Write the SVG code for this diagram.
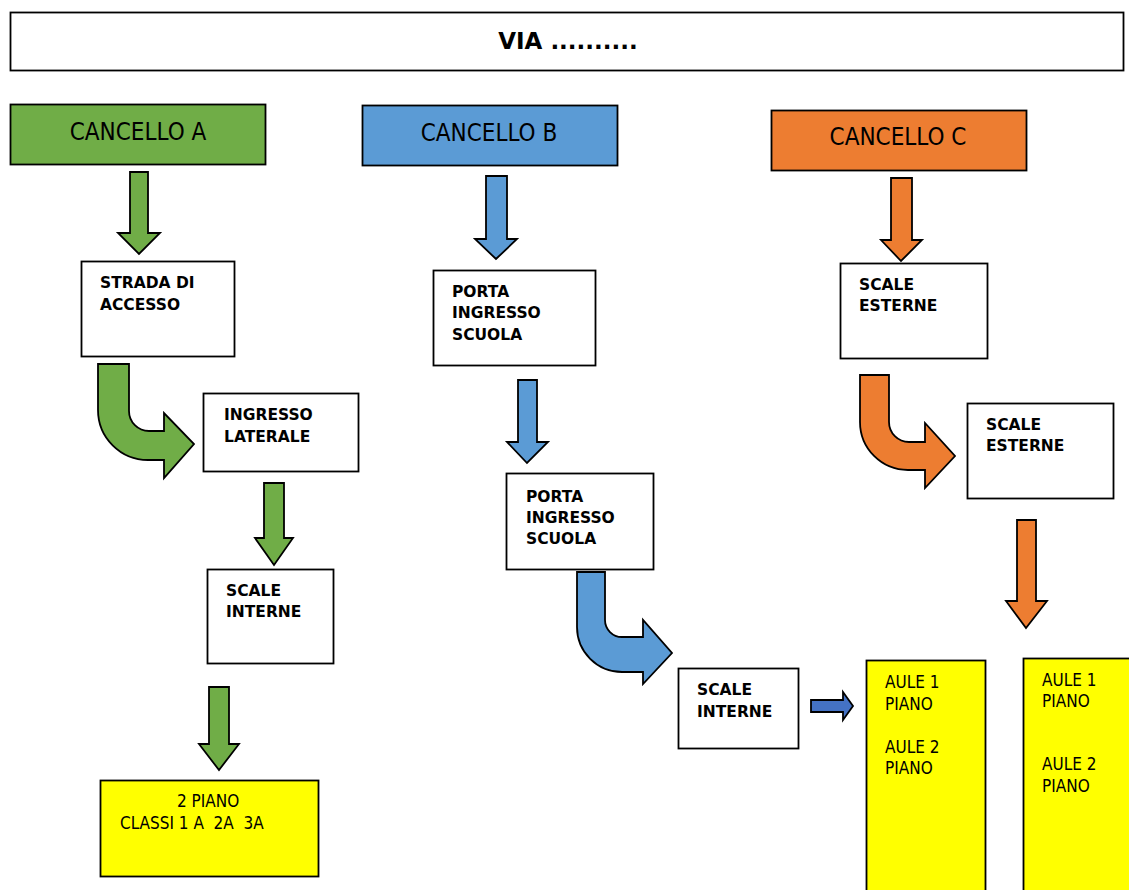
<svg xmlns="http://www.w3.org/2000/svg" width="1129" height="890" viewBox="0 0 1129 890">
<style>
.box{fill:#fff;stroke:#000;stroke-width:1.8}
.yel{fill:#ffff00;stroke:#000;stroke-width:1.8}
.arr{stroke:#000;stroke-width:1.8;stroke-linejoin:miter}
.g{fill:#70ad47}.b{fill:#5b9bd5}.o{fill:#ed7d31}.b2{fill:#4472c4}
.bt{font-family:'DejaVu Sans','Liberation Sans',sans-serif;font-weight:bold;font-size:15.5px;fill:#000}
.rt{font-family:'DejaVu Sans Condensed','DejaVu Sans','Liberation Sans',sans-serif;font-size:17px;fill:#000}
.ct{font-family:'DejaVu Sans Condensed','DejaVu Sans','Liberation Sans',sans-serif;font-size:24px;fill:#000;text-anchor:middle}
</style>
<rect width="1129" height="890" fill="#fff"/>
<g id="via">
<rect class="box" x="10.5" y="12.5" width="1113" height="58"/>
<text x="568" y="49" text-anchor="middle" style="font-family:'DejaVu Sans','Liberation Sans',sans-serif;font-weight:bold;font-size:23px">VIA ..........</text>
</g>
<g id="cancelloA">
<rect x="10.5" y="104.5" width="255" height="60" fill="#70ad47" stroke="#000" stroke-width="1.8"/>
<text class="ct" x="138" y="140">CANCELLO A</text>
</g>
<g id="cancelloB">
<rect x="362.5" y="105.5" width="255" height="60" fill="#5b9bd5" stroke="#000" stroke-width="1.8"/>
<text class="ct" x="489" y="141">CANCELLO B</text>
</g>
<g id="cancelloC">
<rect x="771.5" y="110.5" width="255" height="60" fill="#ed7d31" stroke="#000" stroke-width="1.8"/>
<text class="ct" x="898" y="145">CANCELLO C</text>
</g>
<g id="stradaAccesso">
<rect class="box" x="81.5" y="261.5" width="153" height="95"/>
<text class="bt" x="100" y="288">STRADA DI</text>
<text class="bt" x="100" y="310">ACCESSO</text>
</g>
<g id="ingressoLaterale">
<rect class="box" x="203.5" y="393.5" width="155" height="78"/>
<text class="bt" x="224" y="420">INGRESSO</text>
<text class="bt" x="224" y="442">LATERALE</text>
</g>
<g id="scaleInterneA">
<rect class="box" x="207.5" y="569.5" width="126" height="94"/>
<text class="bt" x="226" y="596">SCALE</text>
<text class="bt" x="226" y="617">INTERNE</text>
</g>
<g id="piano2">
<rect class="yel" x="100.5" y="780.5" width="218" height="96"/>
<text class="rt" x="177" y="807">2 PIANO</text>
<text class="rt" x="120" y="829" xml:space="preserve">CLASSI 1 A  2A  3A</text>
</g>
<g id="portaB1">
<rect class="box" x="433.5" y="270.5" width="162" height="95"/>
<text class="bt" x="452" y="297">PORTA</text>
<text class="bt" x="452" y="318">INGRESSO</text>
<text class="bt" x="452" y="340">SCUOLA</text>
</g>
<g id="portaB2">
<rect class="box" x="506.5" y="473.5" width="147" height="96"/>
<text class="bt" x="526" y="502">PORTA</text>
<text class="bt" x="526" y="523">INGRESSO</text>
<text class="bt" x="526" y="544">SCUOLA</text>
</g>
<g id="scaleInterneB">
<rect class="box" x="678.5" y="668.5" width="120" height="80"/>
<text class="bt" x="697" y="695">SCALE</text>
<text class="bt" x="697" y="717">INTERNE</text>
</g>
<g id="scaleEsterneC1">
<rect class="box" x="840.5" y="263.5" width="147" height="95"/>
<text class="bt" x="859" y="290">SCALE</text>
<text class="bt" x="859" y="311">ESTERNE</text>
</g>
<g id="scaleEsterneC2">
<rect class="box" x="967.5" y="403.5" width="146" height="95"/>
<text class="bt" x="986" y="430">SCALE</text>
<text class="bt" x="986" y="451">ESTERNE</text>
</g>
<g id="aule1">
<rect class="yel" x="866.5" y="660.5" width="119" height="240"/>
<text class="rt" x="885" y="688">AULE 1</text>
<text class="rt" x="885" y="710">PIANO</text>
<text class="rt" x="885" y="753">AULE 2</text>
<text class="rt" x="885" y="774">PIANO</text>
</g>
<g id="aule2">
<rect class="yel" x="1023.5" y="658.5" width="120" height="240"/>
<text class="rt" x="1042" y="686">AULE 1</text>
<text class="rt" x="1042" y="707">PIANO</text>
<text class="rt" x="1042" y="770">AULE 2</text>
<text class="rt" x="1042" y="792">PIANO</text>
</g>
<g id="connectors">
<path class="arr g" d="M130,172 H148 V233 H160 L139,254 L118,233 H130 Z"/>
<path class="arr g" d="M98,364 H129 V411 A20,20 0 0 0 149,431 H164 V413 L194,444 L164,478 V460 H148 A50,50 0 0 1 98,410 Z"/>
<path class="arr g" d="M264,483 H284 V538 H293 L274,565 L255,538 H264 Z"/>
<path class="arr g" d="M209,687 H229 V744 H239 L219,770 L199,744 H209 Z"/>
<path class="arr b" d="M486,176 H507 V239 H517 L496,259 L475,239 H486 Z"/>
<path class="arr b" d="M518,380 H537 V442 H548 L527,463 L507,442 H518 Z"/>
<path class="arr b" d="M577,572 H605 V620 A17,17 0 0 0 622,637 H643 V620 L672,653 L643,684 V672 H622 A45,45 0 0 1 577,627 Z"/>
<path class="arr b2" d="M811,700 H843 V692 L853,706 L843,720 V712 H811 Z"/>
<path class="arr o" d="M891,178 H912 V240 H922 L901,261 L881,240 H891 Z"/>
<path class="arr o" d="M860,375 H889 V422 A20,20 0 0 0 909,442 H925 V423 L955,456 L925,488 V470 H908 A48,48 0 0 1 860,422 Z"/>
<path class="arr o" d="M1017,520 H1036 V601 H1047 L1026,628 L1006,601 H1017 Z"/>
</g>
</svg>
